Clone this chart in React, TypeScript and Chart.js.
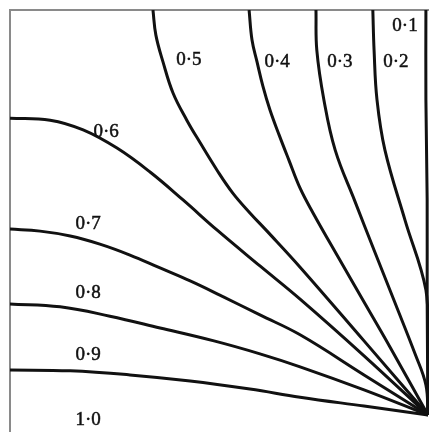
import React, { useEffect, useRef } from "react";
import { Chart, registerables } from "chart.js";

Chart.register(...registerables);

// Contour levels, in the order they are drawn
const levels = ["0·1", "0·2", "0·3", "0·4", "0·5", "0·6", "0·7", "0·8", "0·9"];

// Contour traces in normalised box units (x: 0 → 1 left to right, y: 0 → 1 bottom to top)
const c01x = [0.995, 0.995, 0.998, 0.998, 1.0];
const c01y = [1.0, 0.778, 0.531, 0.284, 0.0];

const c02x = [0.868, 0.871, 0.878, 0.897, 0.945, 0.995, 1.0, 1.0];
const c02y = [1.0, 0.901, 0.778, 0.654, 0.481, 0.309, 0.185, 0.0];

const c03x = [0.732, 0.734, 0.751, 0.778, 0.825, 0.873, 0.921, 0.969, 0.995, 1.0];
const c03y = [1.0, 0.901, 0.778, 0.654, 0.528, 0.402, 0.277, 0.151, 0.074, 0.0];

const c04x = [0.572, 0.579, 0.591, 0.605, 0.622, 0.644, 0.667, 0.694, 0.725, 0.785, 0.847, 0.909, 1.0];
const c04y = [1.0, 0.926, 0.872, 0.812, 0.753, 0.691, 0.63, 0.56, 0.499, 0.39, 0.279, 0.168, 0.0];

const c05x = [0.342, 0.349, 0.366, 0.39, 0.423, 0.455, 0.495, 0.533, 0.574, 0.615, 0.694, 0.847, 1.0];
const c05y = [1.0, 0.938, 0.872, 0.795, 0.728, 0.672, 0.605, 0.548, 0.499, 0.454, 0.365, 0.183, 0.0];

const c06x = [0.0, 0.096, 0.175, 0.256, 0.335, 0.414, 0.495, 0.598, 0.694, 0.847, 1.0];
const c06y = [0.733, 0.728, 0.704, 0.659, 0.6, 0.531, 0.457, 0.368, 0.286, 0.146, 0.0];

const c07x = [0.0, 0.072, 0.144, 0.215, 0.287, 0.359, 0.431, 0.502, 0.598, 0.694, 0.847, 1.0];
const c07y = [0.459, 0.454, 0.442, 0.422, 0.395, 0.363, 0.331, 0.296, 0.247, 0.198, 0.099, 0.0];

const c08x = [0.0, 0.12, 0.239, 0.359, 0.488, 0.598, 0.694, 0.847, 1.0];
const c08y = [0.274, 0.267, 0.244, 0.215, 0.183, 0.151, 0.119, 0.062, 0.0];

const c09x = [0.0, 0.144, 0.287, 0.431, 0.574, 0.694, 0.847, 1.0];
const c09y = [0.111, 0.109, 0.099, 0.084, 0.064, 0.044, 0.022, 0.0];

const curvesX = [c01x, c02x, c03x, c04x, c05x, c06x, c07x, c08x, c09x];
const curvesY = [c01y, c02y, c03y, c04y, c05y, c06y, c07y, c08y, c09y];

// Level labels and where each one sits, in the same box units
const labelText = ["0·1", "0·2", "0·3", "0·4", "0·5", "0·6", "0·7", "0·8", "0·9", "1·0"];
const labelX = [0.945, 0.923, 0.789, 0.639, 0.428, 0.23, 0.187, 0.187, 0.187, 0.187];
const labelY = [0.96, 0.872, 0.872, 0.872, 0.877, 0.699, 0.472, 0.301, 0.148, -0.012];

const framePlugin = {
  id: "frame",
  beforeDraw(chart: any) {
    const { ctx, width, height } = chart;
    ctx.save();
    ctx.fillStyle = "#ffffff";
    ctx.fillRect(0, 0, width, height);
    ctx.restore();
  },
  beforeDatasetsDraw(chart: any) {
    const { ctx, chartArea } = chart;
    ctx.save();
    ctx.strokeStyle = "#8a8a8a";
    ctx.lineWidth = 2;
    ctx.beginPath();
    ctx.moveTo(chartArea.left, chartArea.bottom);
    ctx.lineTo(chartArea.left, chartArea.top);
    ctx.lineTo(chartArea.right, chartArea.top);
    ctx.stroke();
    ctx.restore();
  },
};

const labelPlugin = {
  id: "levelLabels",
  afterDatasetsDraw(chart: any) {
    const { ctx, scales } = chart;
    ctx.save();
    ctx.fillStyle = "#111111";
    ctx.strokeStyle = "#111111";
    ctx.lineWidth = 0.5;
    ctx.font = '19px "Liberation Serif", "DejaVu Serif", serif';
    ctx.textAlign = "center";
    ctx.textBaseline = "middle";
    labelText.forEach((t, i) => {
      const px = scales.x.getPixelForValue(labelX[i]);
      const py = scales.y.getPixelForValue(labelY[i]);
      ctx.fillText(t, px, py);
      ctx.strokeText(t, px, py);
    });
    ctx.restore();
  },
};

export default function App() {
  const canvasRef = useRef<HTMLCanvasElement | null>(null);

  useEffect(() => {
    document.body.style.margin = "0";
    const canvas = canvasRef.current;
    if (!canvas) return;

    const datasets = levels.map((lv, i) => ({
      label: lv,
      data: curvesX[i].map((x, j) => ({ x, y: curvesY[i][j] })),
      showLine: true,
      borderColor: "#111111",
      borderWidth: 3,
      pointRadius: 0,
      tension: 0.4,
      fill: false,
    }));

    const chart = new Chart(canvas, {
      type: "scatter",
      data: { datasets },
      options: {
        animation: false,
        responsive: false,
        layout: { padding: { left: 10, top: 10, right: 0, bottom: 0 } },
        plugins: { legend: { display: false }, tooltip: { enabled: false } },
        scales: {
          x: { type: "linear", min: 0, max: 1.0024, display: false },
          y: { type: "linear", min: -0.042, max: 1, display: false },
        },
      },
      plugins: [framePlugin, labelPlugin],
    });

    return () => chart.destroy();
  }, []);

  return (
    <div style={{ width: 429, height: 432 }}>
      <canvas ref={canvasRef} width={429} height={432} style={{ display: "block" }} />
    </div>
  );
}
